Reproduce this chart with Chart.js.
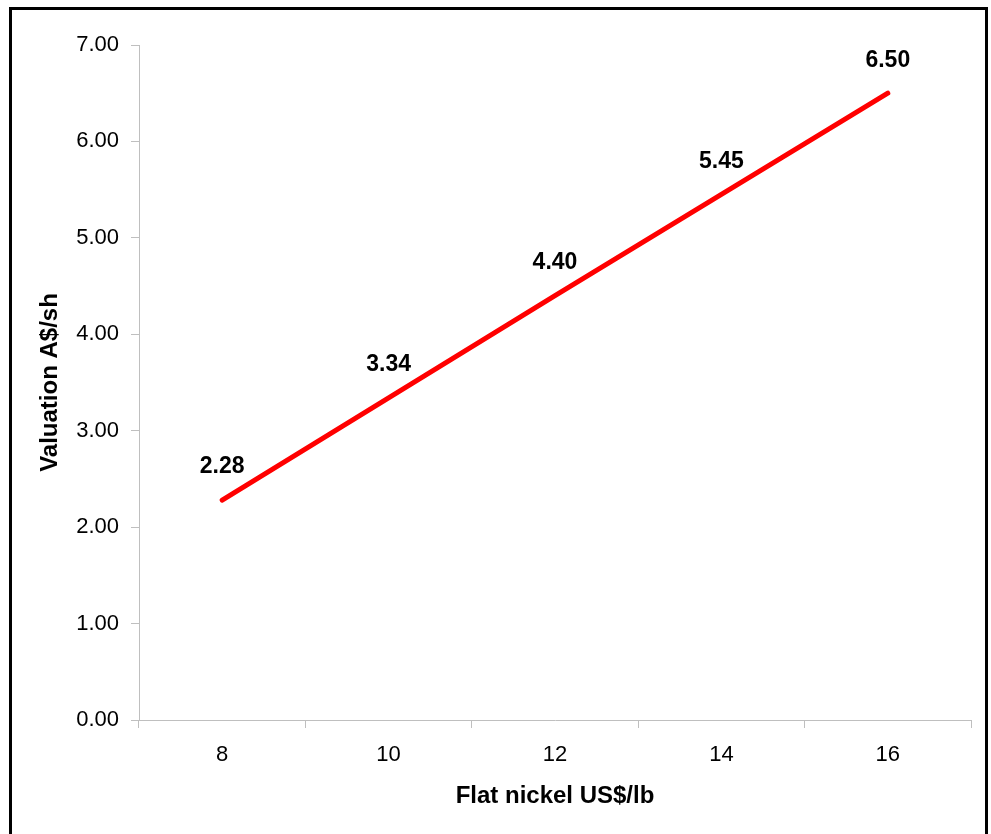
<!DOCTYPE html>
<html>
<head>
<meta charset="utf-8">
<script src="https://cdn.jsdelivr.net/npm/chart.js@4.4.1/dist/chart.umd.min.js"></script>
<style>
  html, body { margin: 0; padding: 0; background: #fff; overflow: hidden; }
  #frame { position: absolute; left: 9px; top: 7px; width: 979px; height: 900px;
           box-sizing: border-box; border: 3px solid #000; pointer-events: none; }
  #chart { position: absolute; left: 0; top: 0; }
</style>
</head>
<body>
<canvas id="chart" width="991" height="834"></canvas>
<div id="frame"></div>
<script>
  // nickel price sensitivity
  const nickelPrices = ['8', '10', '12', '14', '16'];
  const valuations = [2.28, 3.34, 4.40, 5.45, 6.50];
  const yTicks = { min: 0, max: 7, step: 1 };
  const xTitle = 'Flat nickel US$/lb';
  const yTitle = 'Valuation A$/sh';

  const FONT = '"Liberation Sans", Arial, sans-serif';
  const AXIS = '#bfbfbf';

  // étiquettes au-dessus des points
  const valueLabels = {
    id: 'valueLabels',
    afterDatasetsDraw(chart) {
      const ctx = chart.ctx;
      const meta = chart.getDatasetMeta(0);
      ctx.save();
      ctx.font = 'bold 23px ' + FONT;
      ctx.fillStyle = '#000';
      ctx.textAlign = 'center';
      ctx.textBaseline = 'middle';
      meta.data.forEach((pt, i) => {
        ctx.fillText(valuations[i].toFixed(2), pt.x, pt.y - 33);
      });
      ctx.restore();
    }
  };

  new Chart(document.getElementById('chart').getContext('2d'), {
    type: 'line',
    data: {
      labels: nickelPrices,
      datasets: [{
        data: valuations,
        borderColor: '#ff0000',
        borderWidth: 5,
        borderCapStyle: 'round',
        pointRadius: 0,
        tension: 0,
        fill: false
      }]
    },
    options: {
      responsive: false,
      animation: false,
      layout: { padding: { left: 20, right: 20, top: 45, bottom: 0 } },
      plugins: { legend: { display: false }, tooltip: { enabled: false } },
      scales: {
        x: {
          type: 'category',
          offset: true,
          afterFit: s => { s.height = 114; },
          grid: { offset: true, drawOnChartArea: false, drawTicks: true, tickLength: 8, color: AXIS },
          border: { display: true, color: AXIS, width: 1 },
          ticks: { color: '#000', padding: 14, font: { family: FONT, size: 22 } },
          title: { display: true, text: xTitle, color: '#000', padding: { top: 0, bottom: 23 },
                   font: { family: FONT, size: 24, weight: 'bold' } }
        },
        y: {
          min: yTicks.min,
          max: yTicks.max,
          afterFit: s => { s.width = 119; },
          grid: { drawOnChartArea: false, drawTicks: true, tickLength: 8, color: AXIS },
          border: { display: true, color: AXIS, width: 1 },
          ticks: { stepSize: yTicks.step, color: '#000', padding: 12,
                   font: { family: FONT, size: 22 },
                   callback: v => Number(v).toFixed(2) },
          title: { display: true, text: yTitle, color: '#000', padding: { top: 16, bottom: 0 },
                   font: { family: FONT, size: 24, weight: 'bold' } }
        }
      }
    },
    plugins: [valueLabels]
  });
</script>
</body>
</html>
